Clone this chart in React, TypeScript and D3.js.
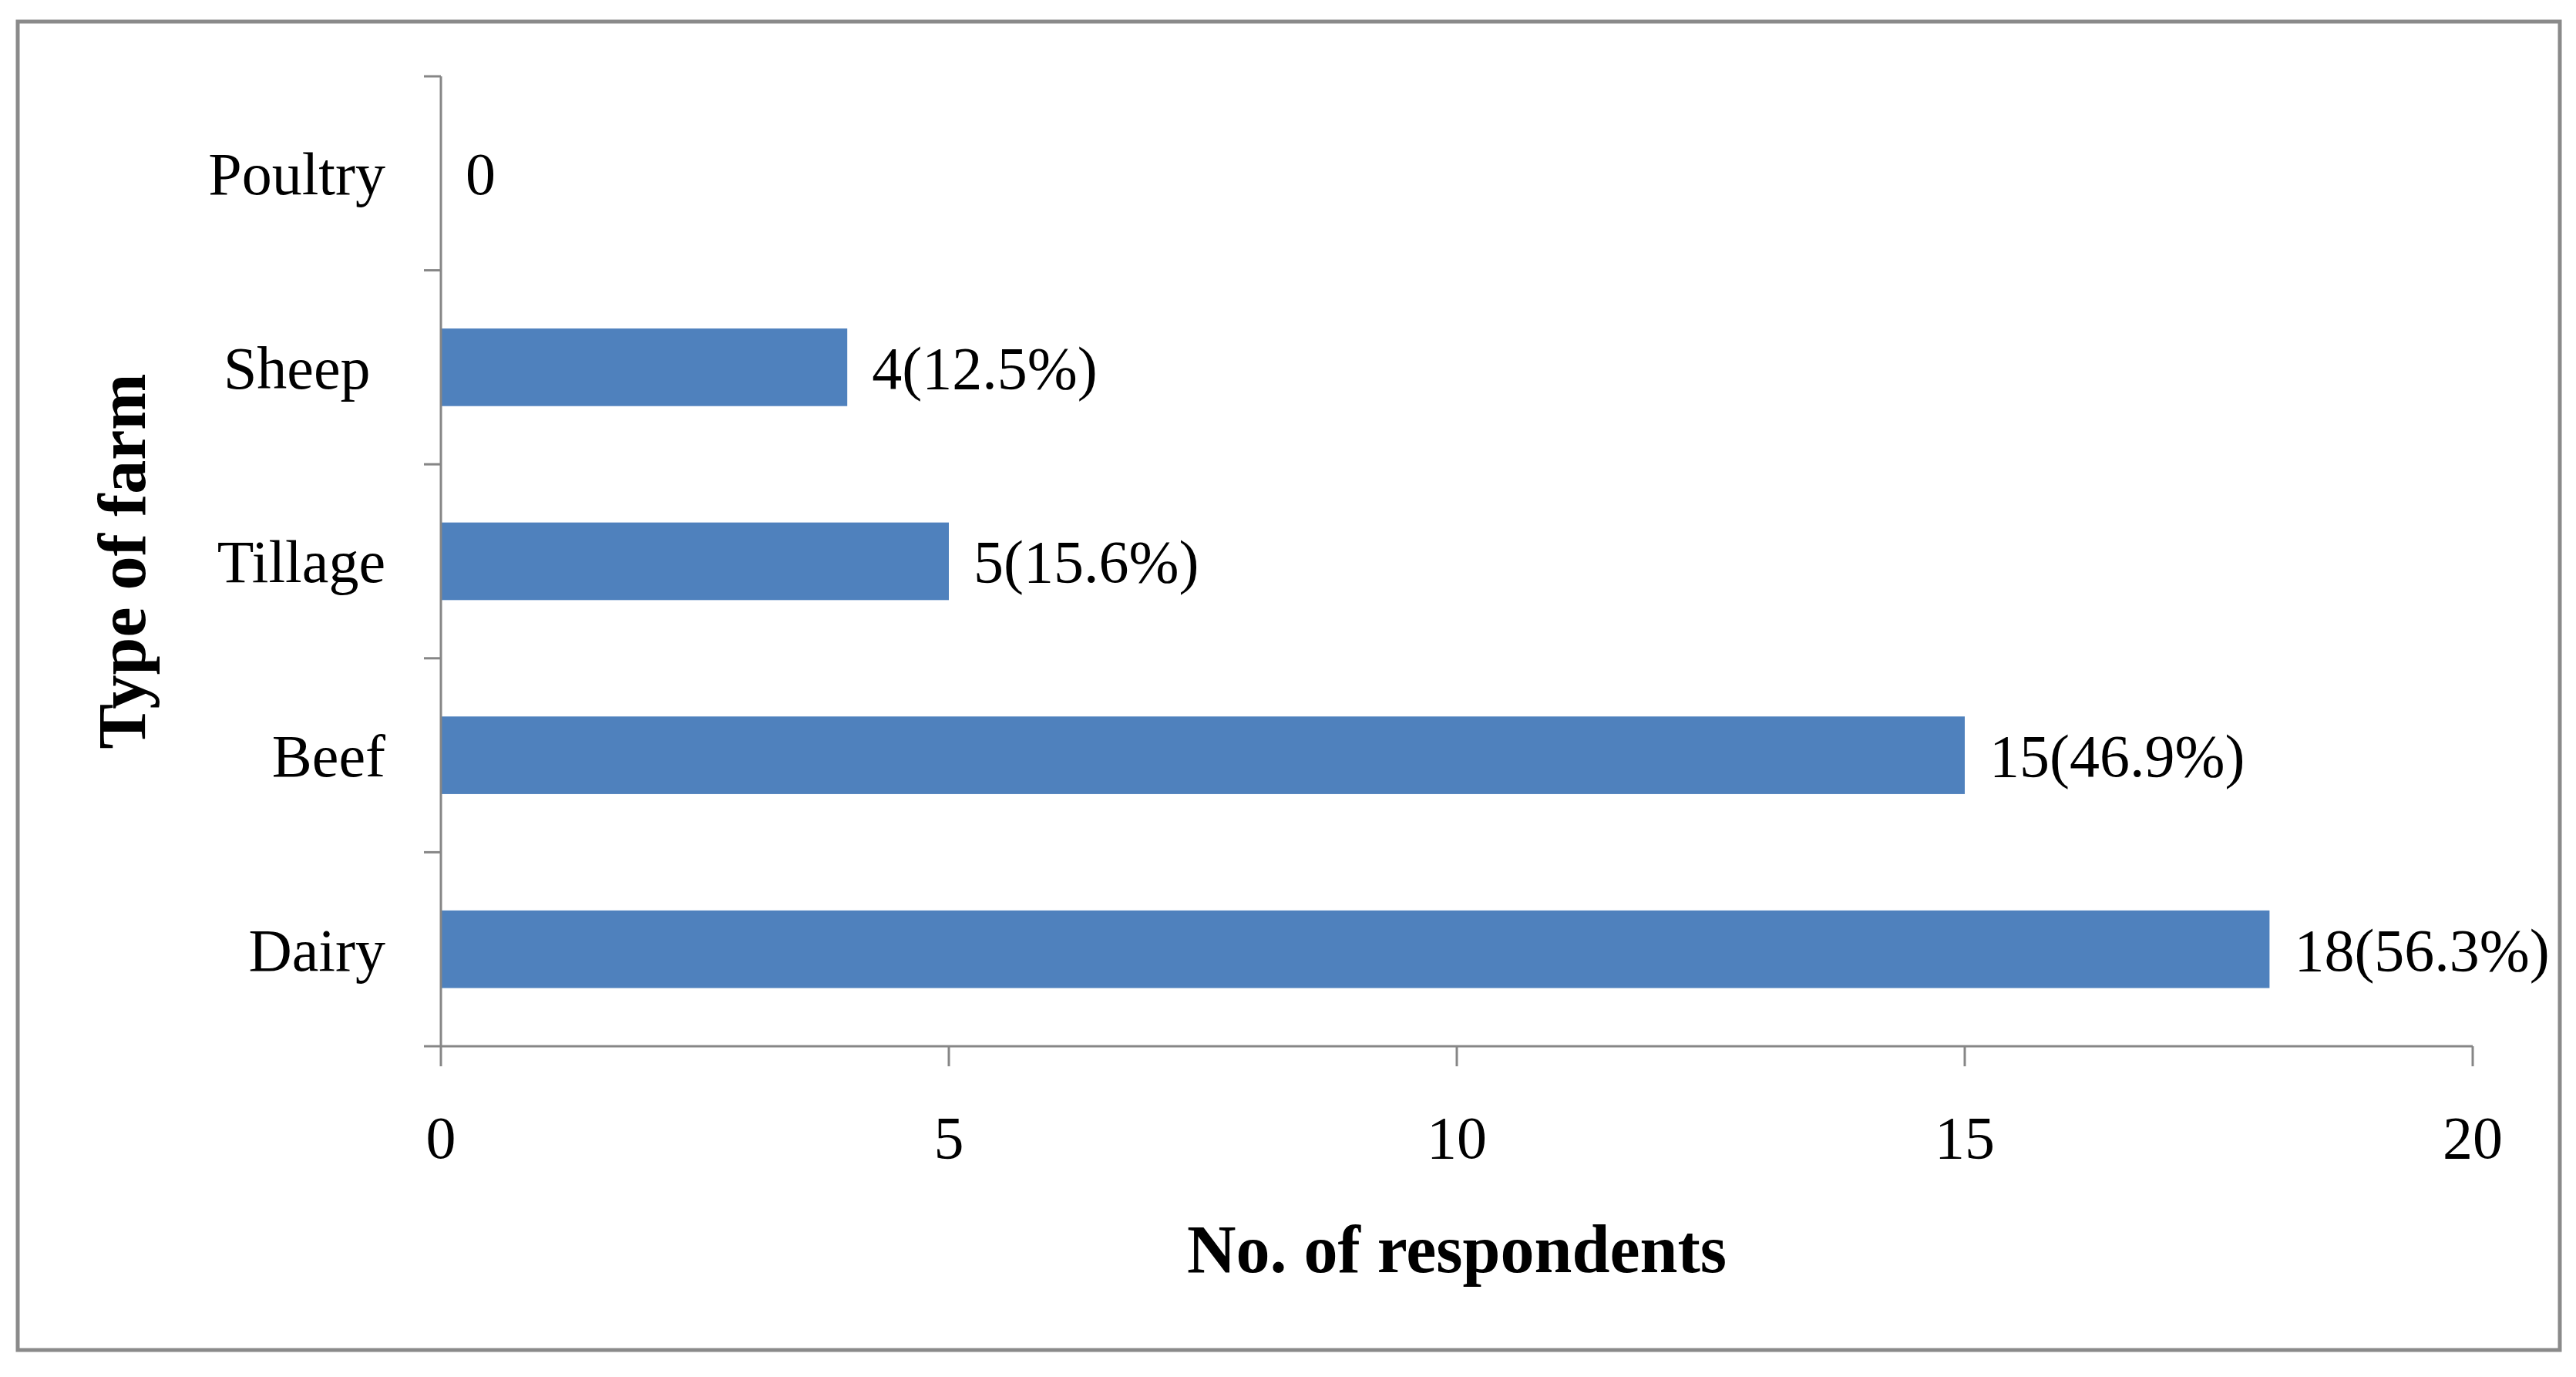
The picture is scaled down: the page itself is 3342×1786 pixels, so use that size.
import React from "react";
import * as d3 from "d3";

const categories = ["Poultry", "Sheep\u00A0", "Tillage", "Beef", "Dairy"];
const values = [0, 4, 5, 15, 18];
const valueLabels = ["0", "4(12.5%)", "5(15.6%)", "15(46.9%)", "18(56.3%)"];
const xTicks = [0, 5, 10, 15, 20];
const xTitle = "No. of respondents";
const yTitle = "Type of farm";

const W = 3342;
const H = 1786;
const FONT = "'Liberation Serif', 'Times New Roman', serif";
const AXIS = "#868686";
const BAR = "#4F81BD";

export default function App() {
  const left = 572;
  const right = 3208;
  const top = 99;
  const bottom = 1357;

  const x = d3.scaleLinear().domain([0, 20]).range([left, right]);
  const y = d3
    .scaleBand<string>()
    .domain(categories)
    .range([top, bottom])
    .paddingInner(0.6)
    .paddingOuter(0.3);

  const step = y.step();
  const bw = y.bandwidth();
  const off = (step - bw) / 2;
  const boundaries = categories.map((c) => (y(c) as number) - off).concat([bottom]);

  return (
    <svg
      width={W}
      height={H}
      style={{ position: "absolute", left: 0, top: 0, background: "#fff" }}
      fontFamily={FONT}
    >
      <rect x={0} y={0} width={W} height={H} fill="#fff" />
      <rect x={23} y={28} width={3298} height={1723} fill="none" stroke="#8a8a8a" strokeWidth={5} />

      {/* bars */}
      {categories.map((c, i) => (
        <rect
          key={c}
          x={x(0)}
          y={y(c) as number}
          width={x(values[i]) - x(0)}
          height={bw}
          fill={BAR}
        />
      ))}

      {/* y axis */}
      <line x1={left} x2={left} y1={top} y2={bottom} stroke={AXIS} strokeWidth={3} />
      {boundaries.map((b, i) => (
        <line key={i} x1={left - 22} x2={left} y1={b} y2={b} stroke={AXIS} strokeWidth={3} />
      ))}

      {/* x axis */}
      <line x1={left} x2={right} y1={bottom} y2={bottom} stroke={AXIS} strokeWidth={3} />
      {xTicks.map((t) => (
        <line key={t} x1={x(t)} x2={x(t)} y1={bottom} y2={bottom + 26} stroke={AXIS} strokeWidth={3} />
      ))}
      {xTicks.map((t) => (
        <text key={t} x={x(t)} y={bottom + 145} textAnchor="middle" fontSize={78} fill="#000">
          {t}
        </text>
      ))}

      {/* category labels */}
      {categories.map((c) => (
        <text
          key={c}
          x={left - 72}
          y={(y(c) as number) + bw / 2}
          dy="0.35em"
          textAnchor="end"
          fontSize={78}
          fill="#000"
        >
          {c}
        </text>
      ))}

      {/* value labels */}
      {categories.map((c, i) => (
        <text
          key={c}
          x={x(values[i]) + 32}
          y={(y(c) as number) + bw / 2}
          dy="0.35em"
          textAnchor="start"
          fontSize={78}
          fill="#000"
        >
          {valueLabels[i]}
        </text>
      ))}

      {/* axis titles */}
      <text
        x={(left + right) / 2}
        y={1650}
        textAnchor="middle"
        fontSize={88}
        fontWeight="bold"
        fill="#000"
      >
        {xTitle}
      </text>
      <text
        transform={`translate(188, ${(top + bottom) / 2}) rotate(-90)`}
        textAnchor="middle"
        fontSize={88}
        fontWeight="bold"
        fill="#000"
      >
        {yTitle}
      </text>
    </svg>
  );
}
